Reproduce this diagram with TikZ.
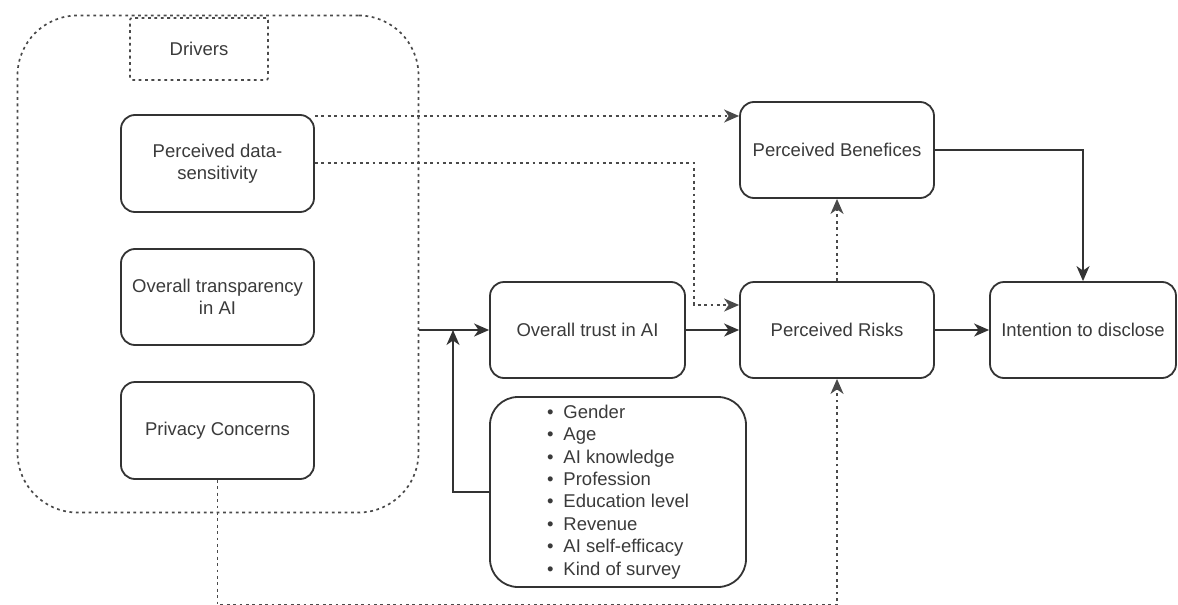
\documentclass[tikz,border=0pt]{standalone}
\usepackage{fontspec}
\setmainfont{Liberation Sans}
\usetikzlibrary{arrows.meta,calc}
\definecolor{txt}{HTML}{3A3A3A}
\definecolor{ln}{HTML}{333333}
\definecolor{dl}{HTML}{4A4A4A}
\tikzset{
  box/.style={draw=ln, line width=1.8pt, rounded corners=14pt, inner sep=0pt, align=center,
    text=txt, font=\fontsize{18.5}{22}\selectfont},
  dashbox/.style={draw=dl, line width=1.7pt, dash pattern=on 2.8pt off 3.6pt, inner sep=0pt, align=center,
    text=txt, font=\fontsize{18.5}{22}\selectfont},
  tip/.style={-{Stealth[length=15pt,width=13pt,inset=4.5pt]}},
  arr/.style={draw=ln, line width=1.7pt, tip},
  dotarr/.style={draw=dl, line width=1.7pt, dash pattern=on 2.8pt off 3.6pt, tip},
}
\begin{document}
\begin{tikzpicture}[x=1pt,y=-1pt]
\useasboundingbox (0,0) rectangle (1178,605);
% group
\node[dashbox, rounded corners=60pt, minimum width=401pt, minimum height=497pt] (outer) at (218,264) {};
\node[dashbox, rounded corners=2pt, minimum width=138pt, minimum height=62pt] (drivers) at (199,49) {Drivers};
% drivers
\node[box, minimum width=193pt, minimum height=97pt] (pds) at (217.5,163.5) {Perceived data-\\sensitivity};
\node[box, minimum width=193pt, minimum height=96pt] (ota) at (217.5,297) {Overall transparency\\in AI};
\node[box, minimum width=193pt, minimum height=97pt] (pc) at (217.5,430.5) {Privacy Concerns};
% middle
\node[box, minimum width=195pt, minimum height=96pt] (trust) at (587.5,330) {Overall trust in AI};
\node[box, rounded corners=28pt, minimum width=256pt, minimum height=190pt, align=left,
  font=\fontsize{18.5}{22.4}\selectfont] (list) at (618,492)
  {\textbullet\hspace{10pt}Gender\\
   \textbullet\hspace{10pt}Age\\
   \textbullet\hspace{10pt}AI knowledge\\
   \textbullet\hspace{10pt}Profession\\
   \textbullet\hspace{10pt}Education level\\
   \textbullet\hspace{10pt}Revenue\\
   \textbullet\hspace{10pt}AI self-efficacy\\
   \textbullet\hspace{10pt}Kind of survey};
% right
\node[box, minimum width=194pt, minimum height=96pt] (ben) at (837,150) {Perceived Benefices};
\node[box, minimum width=194pt, minimum height=96pt] (risk) at (837,330) {Perceived Risks};
\node[box, minimum width=186pt, minimum height=96pt] (intent) at (1083,330) {Intention to disclose};
% connectors
\coordinate (j) at (453,330);
\coordinate (bend) at (694,163);
\coordinate (low) at (217.5,605);
\draw[arr] (trust.west -| outer.east) -- (trust.west);
\draw[arr] (list.west) -| (j);
\draw[arr] (trust.east) -- (risk.west);
\draw[arr] (risk.east) -- (intent.west);
\draw[arr] (ben.east) -| (intent.north);
\draw[dotarr] (pds.east |- 0,116) -- (ben.west |- 0,116);
\draw[dotarr] (pds.east |- bend) -- (bend) |- (risk.west |- 0,305);
\draw[dotarr] (risk.north) -- (ben.south);
\draw[dotarr] (pc.south) -- (low) -| (risk.south);
\end{tikzpicture}
\end{document}
